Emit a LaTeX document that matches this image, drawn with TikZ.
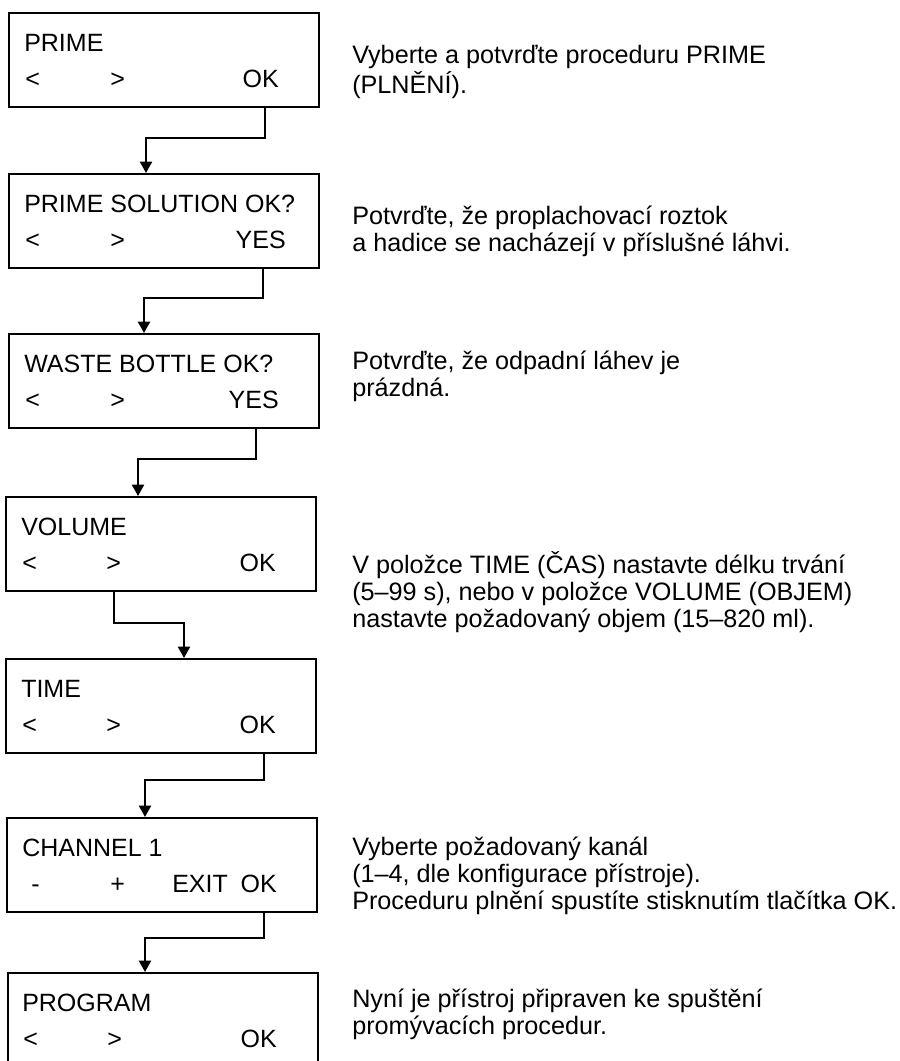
\documentclass[tikz,border=0pt]{standalone}
\usepackage{fontspec}
\setmainfont{Liberation Sans}
\usetikzlibrary{arrows.meta}

\begin{document}
\begin{tikzpicture}[x=0.75pt, y=-0.75pt,
    screen/.style={draw, line width=1.5pt, inner sep=0pt, minimum width=232.5pt, minimum height=70.5pt},
    key/.style={font=\fontsize{18.75pt}{22pt}\selectfont, inner sep=0pt, anchor=base west},
    keyright/.style={key, anchor=base east},
    note/.style={font=\fontsize{18.9pt}{20.25pt}\selectfont, inner sep=0pt, anchor=base west},
    flow/.style={line width=1.5pt, -{Triangle[width=9pt, length=8.5pt]}}]
            \useasboundingbox (0,0) rectangle (900,1061);

            % Display screens
            \node[screen] (prime) at (164,60) {};
            \node[key] (prime-title) at (24,51.5) {PRIME};
            \node[key] (prime-prev) at (25,87) {<};
            \node[key] (prime-next) at (110,87) {>};
            \node[keyright] (prime-ok) at (279,87) {OK};

            \node[screen] (solution) at (164,221) {};
            \node[key] (solution-title) at (24,212.5) {PRIME SOLUTION OK?};
            \node[key] (solution-prev) at (25,248) {<};
            \node[key] (solution-next) at (110,248) {>};
            \node[keyright] (solution-yes) at (286,248) {YES};

            \node[screen] (waste) at (164,381) {};
            \node[key] (waste-title) at (24,372.5) {WASTE BOTTLE OK?};
            \node[key] (waste-prev) at (25,408) {<};
            \node[key] (waste-next) at (110,408) {>};
            \node[keyright] (waste-yes) at (279,408) {YES};

            \node[screen] (volume) at (161,544) {};
            \node[key] (volume-title) at (21,535.5) {VOLUME};
            \node[key] (volume-prev) at (22,571) {<};
            \node[key] (volume-next) at (106,571) {>};
            \node[keyright] (volume-ok) at (276,571) {OK};

            \node[screen] (time) at (161,706) {};
            \node[key] (time-title) at (21,697.5) {TIME};
            \node[key] (time-prev) at (22,733) {<};
            \node[key] (time-next) at (106,733) {>};
            \node[keyright] (time-ok) at (276,733) {OK};

            \node[screen] (channel) at (162,865) {};
            \node[key] (channel-title) at (22,856.5) {CHANNEL 1};
            \node[key] (channel-minus) at (31,892) {-};
            \node[key] (channel-plus) at (110,892) {+};
            \node[key] (channel-exit) at (172,892) {EXIT};
            \node[keyright] (channel-ok) at (277,892) {OK};

            \node[screen] (program) at (162.5,1020) {};
            \node[key] (program-title) at (22,1011.5) {PROGRAM};
            \node[key] (program-prev) at (23,1047) {<};
            \node[key] (program-next) at (107,1047) {>};
            \node[keyright] (program-ok) at (277,1047) {OK};

            % Steps between screens
            \draw[flow] ([shift={(101,0)}]prime.south) -- ++(0,30) -| ([shift={(-18,0)}]solution.north);
            \draw[flow] ([shift={(99,0)}]solution.south) -- ++(0,29) -| ([shift={(-20,0)}]waste.north);
            \draw[flow] ([shift={(92,0)}]waste.south) -- ++(0,30) -| ([shift={(-23,0)}]volume.north);
            \draw[flow] ([shift={(-47,0)}]volume.south) -- ++(0,31) -| ([shift={(23,0)}]time.north);
            \draw[flow] ([shift={(103,0)}]time.south) -- ++(0,26) -| ([shift={(-17,0)}]channel.north);
            \draw[flow] ([shift={(102,0)}]channel.south) -- ++(0,25) -| ([shift={(-17.5,0)}]program.north);

            % Instructions
            \node[note] (prime-note) at (352,63) {\begin{tabular}[t]{@{}l@{}}Vyberte a potvrďte proceduru PRIME\\(PLNĚNÍ).\end{tabular}};
            \node[note] (solution-note) at (352,224) {\begin{tabular}[t]{@{}l@{}}Potvrďte, že proplachovací roztok\\a hadice se nacházejí v příslušné láhvi.\end{tabular}};
            \node[note] (waste-note) at (352,369) {\begin{tabular}[t]{@{}l@{}}Potvrďte, že odpadní láhev je\\prázdná.\end{tabular}};
            \node[note] (volume-note) at (352,573) {\begin{tabular}[t]{@{}l@{}}V položce TIME (ČAS) nastavte délku trvání\\(5–99 s), nebo v položce VOLUME (OBJEM)\\nastavte požadovaný objem (15–820 ml).\end{tabular}};
            \node[note] (channel-note) at (352,855) {\begin{tabular}[t]{@{}l@{}}Vyberte požadovaný kanál\\(1–4, dle konfigurace přístroje).\\Proceduru plnění spustíte stisknutím tlačítka OK.\end{tabular}};
            \node[note] (program-note) at (352,1007) {\begin{tabular}[t]{@{}l@{}}Nyní je přístroj připraven ke spuštění\\promývacích procedur.\end{tabular}};
        \end{tikzpicture}
\end{document}
